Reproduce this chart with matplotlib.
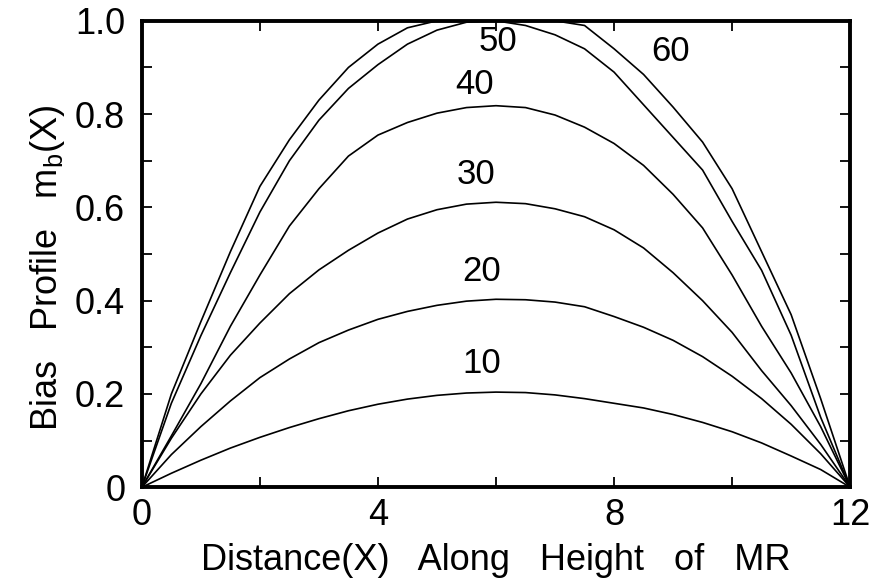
import numpy as np
import matplotlib
matplotlib.use('Agg')
import matplotlib.pyplot as plt
from matplotlib.ticker import MultipleLocator, FixedLocator

# ----- Data -----
x_pos = [0, 0.5, 1, 1.5, 2, 2.5, 3, 3.5, 4, 4.5, 5, 5.5, 6,
         6.5, 7, 7.5, 8, 8.5, 9, 9.5, 10, 10.5, 11, 11.5, 12]

m10 = [0, 0.030, 0.058, 0.084, 0.107, 0.128, 0.147, 0.164, 0.178, 0.189, 0.197, 0.202, 0.204,
       0.203, 0.198, 0.190, 0.180, 0.170, 0.156, 0.139, 0.119, 0.095, 0.067, 0.038, 0]
m20 = [0, 0.070, 0.130, 0.185, 0.235, 0.275, 0.310, 0.337, 0.360, 0.377, 0.390, 0.399, 0.403,
       0.402, 0.397, 0.387, 0.366, 0.343, 0.315, 0.280, 0.238, 0.190, 0.135, 0.072, 0]
m30 = [0, 0.105, 0.200, 0.283, 0.352, 0.415, 0.466, 0.508, 0.545, 0.575, 0.595, 0.607, 0.611,
       0.608, 0.597, 0.580, 0.552, 0.513, 0.460, 0.400, 0.332, 0.250, 0.175, 0.092, 0]
m40 = [0, 0.110, 0.222, 0.345, 0.455, 0.560, 0.640, 0.710, 0.755, 0.782, 0.802, 0.814, 0.818,
       0.814, 0.798, 0.772, 0.737, 0.690, 0.628, 0.556, 0.455, 0.345, 0.245, 0.130, 0]
m50 = [0, 0.180, 0.325, 0.460, 0.590, 0.700, 0.787, 0.855, 0.906, 0.950, 0.980, 0.997, 1.0,
       0.990, 0.970, 0.940, 0.890, 0.820, 0.750, 0.680, 0.570, 0.465, 0.326, 0.150, 0]
m60 = [0, 0.200, 0.355, 0.505, 0.645, 0.745, 0.830, 0.900, 0.950, 0.985, 1.0, 1.0, 1.0,
       1.0, 1.0, 0.990, 0.940, 0.885, 0.815, 0.740, 0.640, 0.505, 0.370, 0.190, 0]

curves = [m10, m20, m30, m40, m50, m60]
curve_labels = ['10', '20', '30', '40', '50', '60']
label_x = [5.76, 5.76, 5.67, 5.64, 6.03, 8.95]
label_y = [0.266, 0.462, 0.670, 0.863, 0.956, 0.934]

x_ticks = [0, 4, 8, 12]
x_ticklabels = ['0', '4', '8', '12']
y_ticks = [0, 0.2, 0.4, 0.6, 0.8, 1.0]
y_ticklabels = ['0', '0.2', '0.4', '0.6', '0.8', '1.0']

plt.rcParams['font.family'] = ['Liberation Sans', 'DejaVu Sans']
plt.rcParams['mathtext.fontset'] = 'custom'
plt.rcParams['mathtext.rm'] = 'Liberation Sans'
plt.rcParams['mathtext.default'] = 'regular'

fig = plt.figure(figsize=(8.81, 5.78), dpi=100)
ax = fig.add_axes([0.161, 0.157, 0.804, 0.807])

for y in curves:
    ax.plot(x_pos, y, color='black', lw=1.2, solid_joinstyle='round')

for txt, lx, ly in zip(curve_labels, label_x, label_y):
    ax.text(lx, ly, txt, fontsize=25, ha='center', va='center')

ax.set_xlim(0, 12)
ax.set_ylim(0, 1.0)

ax.xaxis.set_major_locator(FixedLocator(x_ticks))
ax.xaxis.set_minor_locator(MultipleLocator(2))
ax.yaxis.set_major_locator(FixedLocator(y_ticks))
ax.yaxis.set_minor_locator(MultipleLocator(0.1))
ax.set_xticklabels(x_ticklabels)
ax.set_yticklabels(y_ticklabels)

ax.tick_params(which='both', direction='in', top=True, right=True,
               width=1.3, labelsize=26, length=7)
ax.tick_params(axis='x', pad=8)
ax.tick_params(axis='y', pad=12)

for sp in ax.spines.values():
    sp.set_linewidth(2.8)

ax.set_xlabel('Distance(X)   Along   Height   of   MR', fontsize=26, va='baseline')
ax.xaxis.set_label_coords(0.5, -0.178)
ax.set_ylabel(r'Bias   Profile   m$_{b}$(X)', fontsize=26, va='baseline')
ax.yaxis.set_label_coords(-0.12, 0.47)

fig.savefig('out.png', dpi=100)
